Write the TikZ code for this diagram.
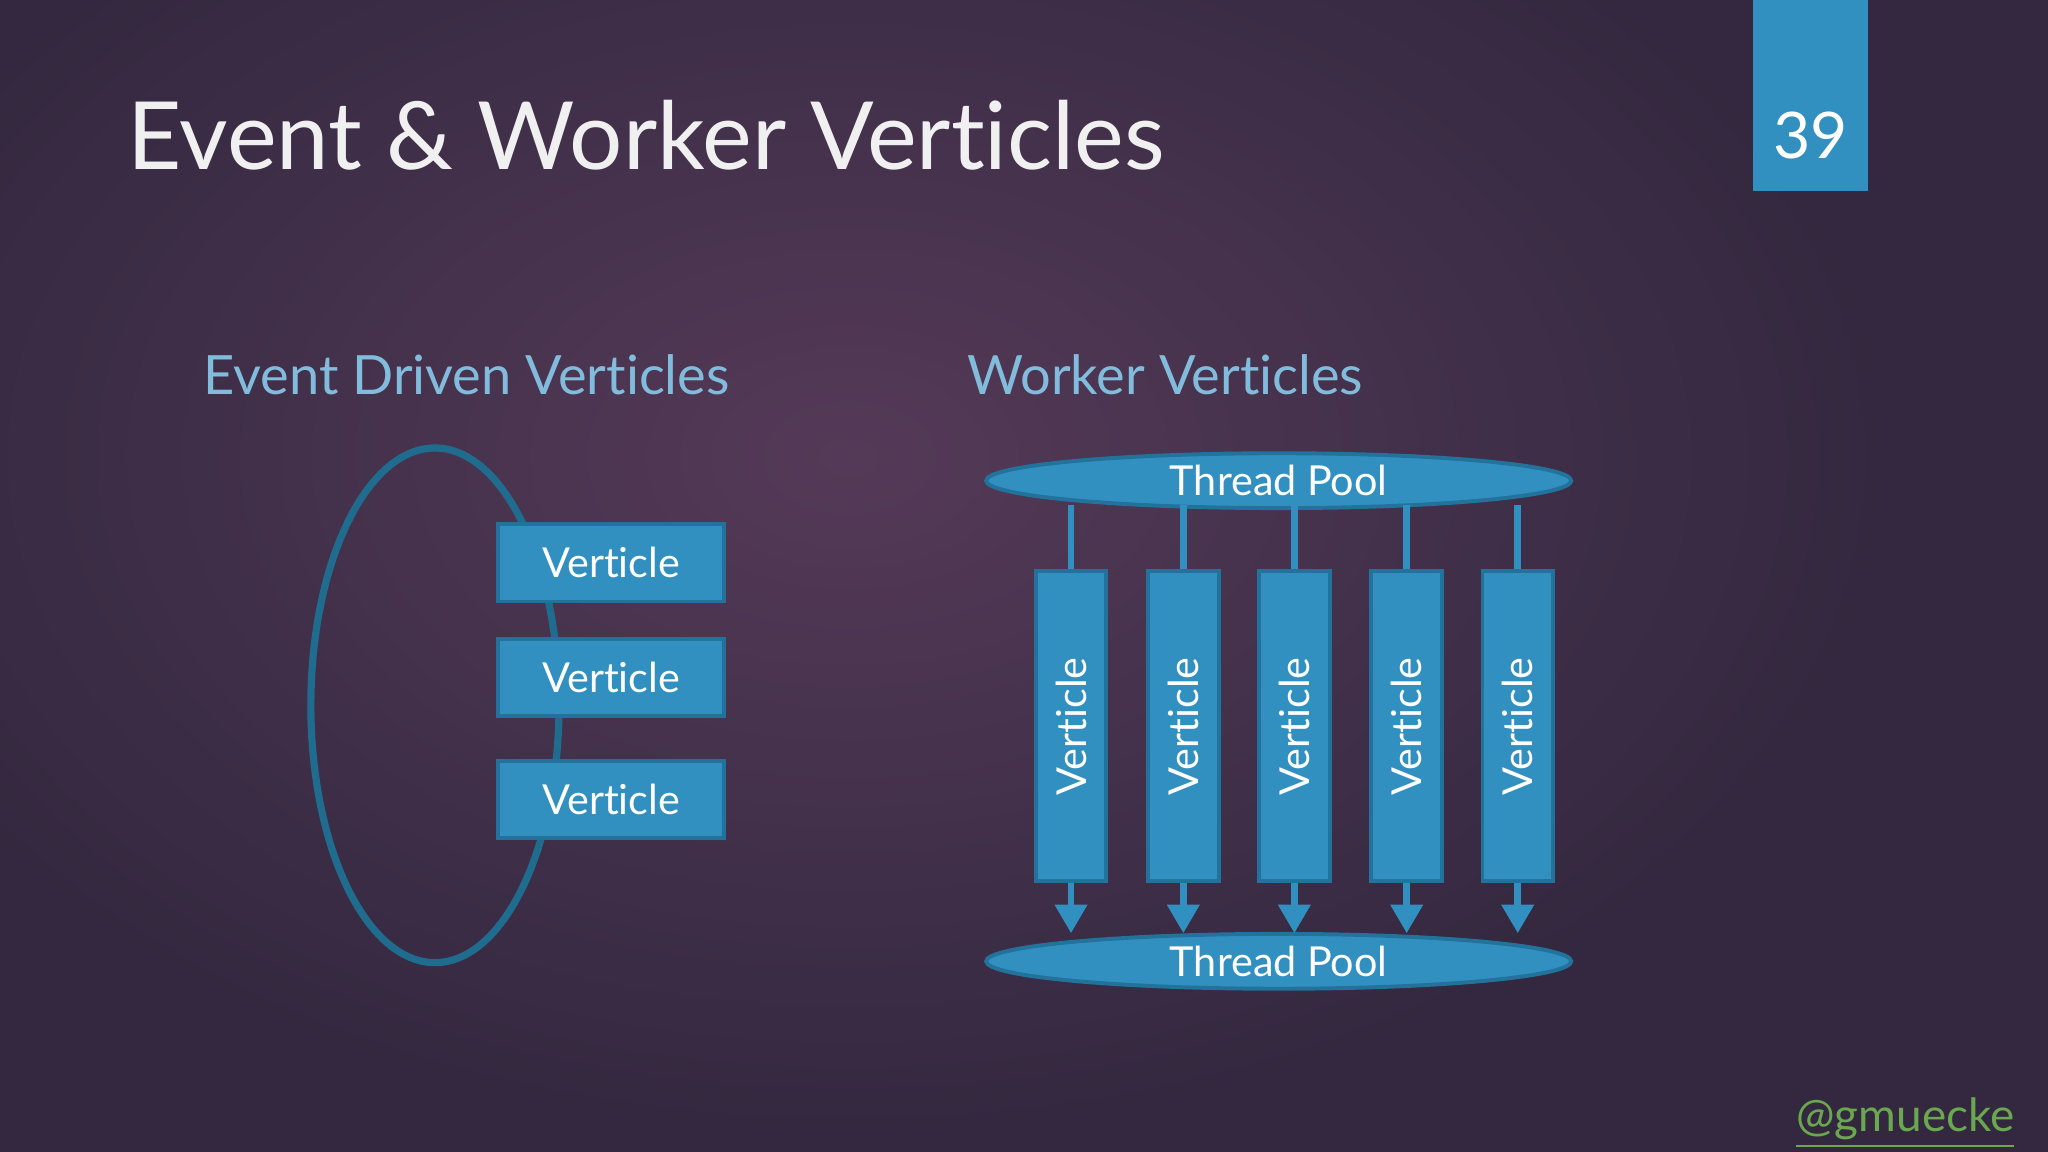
\documentclass[tikz,border=0pt]{standalone}
\usepackage{fontspec}
\setmainfont{Lato}[Ligatures={NoCommon,NoRequired,NoContextual}]
\usetikzlibrary{arrows.meta,shapes.geometric}
\definecolor{bgd}{HTML}{33283F}
\definecolor{bgl}{HTML}{553A58}
\definecolor{boxb}{HTML}{3190C0}
\definecolor{boxd}{HTML}{22729C}
\definecolor{ring}{HTML}{1F6C8F}
\definecolor{sub}{HTML}{82BCDC}
\definecolor{grn}{HTML}{6AA84F}
\tikzset{
 vbox/.style={draw=boxd,fill=boxb,line width=0.3mm,minimum width=17.3mm,minimum height=5.9mm,text=white,font=\fontsize{9}{11}\selectfont},
 bar/.style={draw=boxd,fill=boxb,line width=0.3mm,minimum width=5.4mm,minimum height=23.7mm,text=white,font=\fontsize{9}{11}\selectfont},
 pool/.style={ellipse,draw=boxd,fill=boxb,line width=0.3mm,minimum width=44.8mm,minimum height=4.2mm,inner sep=0pt,text=white,font=\fontsize{9}{11}\selectfont},
 conn/.style={boxb,line width=0.5mm},
}
\begin{document}
\begin{tikzpicture}[x=0.1mm,y=-0.1mm]
\useasboundingbox (0,0) rectangle (1568,882);
\fill[bgd] (0,0) rectangle (1568,882);
\shade[inner color=bgl,outer color=bgd] (650,350) ellipse (800 and 520);
\fill[boxb] (1342,0) rectangle (1430,146);
\node[text=white,font=\fontsize{14}{17}\selectfont] (num) at (1386,104) {39};
\node[anchor=base west,text=white!88!gray,font=\fontsize{20.5}{24}\selectfont,inner sep=0] (title) at (97,130) {Event \& Worker Verticles};
\node[anchor=base west,text=sub,font=\fontsize{11.8}{14}\selectfont,inner sep=0] (h1) at (155,302) {Event Driven Verticles};
\node[anchor=base west,text=sub,font=\fontsize{11.8}{14}\selectfont,inner sep=0] (h2) at (740,302) {Worker Verticles};
\draw[ring,line width=0.55mm] (333,540) ellipse (95 and 197);
\node[vbox] (v1) at (468,431) {Verticle};
\node[vbox] (v2) at (468,519) {Verticle};
\node[vbox] (v3) at (468,612) {Verticle};
\node[pool] (tp1) at (979,368) {Thread Pool};
\node[pool] (tp2) at (979,736) {Thread Pool};
\foreach \i/\x in {1/820,2/906,3/991,4/1077,5/1162}{
  \node[bar] (b\i) at (\x,556) {\rotatebox{90}{Verticle}};
  \draw[conn] (b\i.north) -- ([yshift=0.4mm]b\i.north |- tp1.south);
  \draw[conn,-{Triangle[width=2.4mm,length=2.2mm]}] (b\i.south) -- ([yshift=-0.1mm]b\i.south |- tp2.north);
}
\node[anchor=base east,text=grn,font=\fontsize{10}{12}\selectfont,inner sep=0] (tw) at (1543,866) {\underline{@gmuecke}};
\end{tikzpicture}
\end{document}
